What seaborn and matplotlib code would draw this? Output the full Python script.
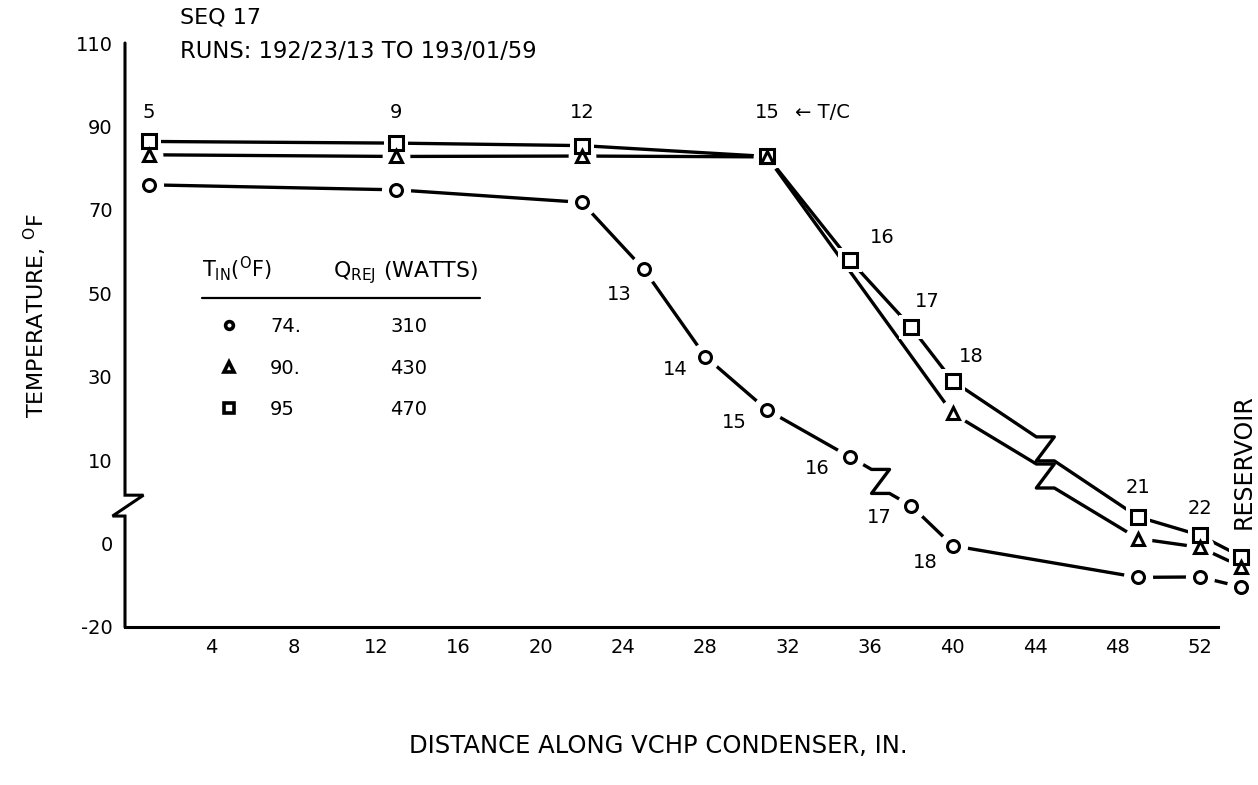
import numpy as np
import matplotlib
matplotlib.use("Agg")
import matplotlib.pyplot as plt
from matplotlib.ticker import NullLocator
import seaborn as sns

# ---------------------------------------------------------------- data
x_circle = [1, 13, 22, 25, 28, 31, 35, 38, 40, 49, 52, 54]
y_circle = [76.0, 74.8, 71.8, 55.8, 34.8, 22.0, 10.8, 4.5, -0.5, -8.1, -8.0, -10.4]

x_triangle = [1, 13, 22, 31, 40, 49, 52, 54]
y_triangle = [83.2, 82.8, 82.9, 82.7, 21.2, 0.6, -0.9, -5.5]

x_square = [1, 13, 22, 31, 35, 38, 40, 49, 52, 54]
y_square = [86.4, 86.0, 85.4, 82.8, 58.0, 41.8, 29.0, 3.2, 1.0, -3.1]

legend_t_in = ["74.", "90.", "95"]
legend_q_rej = ["310", "430", "470"]

y_tick_values = [-20, 0, 10, 30, 50, 70, 90, 110]
x_major_ticks = [4, 8, 12, 16, 20, 24, 28, 32, 36, 40, 44, 48, 52]
x_minor_ticks = [2, 4, 6, 8, 10, 12, 14, 16, 18, 20, 22, 24, 26,
                 28, 30, 32, 34, 36, 38, 40, 42, 44, 46, 48, 50, 52]

top_tc_labels = ["5", "9", "12", "15"]          # at first four square points
circle_tc_labels = ["13", "14", "15", "16", "17", "18"]
square_tc_labels = ["16", "17", "18", "21", "22"]

# ---------------------------------------------------------------- layout (pixels)
W, H = 1258, 785
AX_L, AX_R, AX_T, AX_B = 125, 1253, 43, 627
X_MIN, X_MAX = -0.175, 54.58
X_SPINE_END = 52.9
CIRCLE_LABEL_FIRST = 3
CIRCLE_LABEL_OFFSETS = [(-24, 25), (-30, 13), (-33, 12), (-32, 12), (-32, 11), (-27, 17)]
SQUARE_LABEL_FIRST = 4
SQUARE_LABEL_OFFSETS = [(33, -22), (16, -26), (19, -24), (0, -29), (0, -27)]
TOP_LABEL_Y = 93.3
BREAK_LO, BREAK_HI = 3.3, 5.8

sns.set_theme(style="white")
plt.rcParams["font.family"] = ["DejaVu Sans"]
plt.rcParams["mathtext.fontset"] = "dejavusans"
for k in ["text.color", "axes.labelcolor", "xtick.color", "ytick.color", "axes.edgecolor"]:
    plt.rcParams[k] = "black"

fig = plt.figure(figsize=(W / 100, H / 100), dpi=100)
fig.patch.set_facecolor("white")
ax = fig.add_axes([AX_L / W, 1 - AX_B / H, (AX_R - AX_L) / W, (AX_B - AX_T) / H])
ax.set_facecolor("white")


def fwd(v):
    v = np.asarray(v, dtype=float)
    return np.where(v <= 0, (v + 20) / 20,
                    np.where(v <= 10, 1 + v / 10, 2 + (v - 10) / 20))


def inv(u):
    u = np.asarray(u, dtype=float)
    return np.where(u <= 1, u * 20 - 20,
                    np.where(u <= 2, (u - 1) * 10, 10 + (u - 2) * 20))


ax.set_yscale("function", functions=(fwd, inv))
ax.set_ylim(-20, 110)
ax.set_xlim(X_MIN, X_MAX)


def with_break(xs, ys, i, hw=9, hh=12):
    p0 = ax.transData.transform((xs[i], ys[i]))
    p1 = ax.transData.transform((xs[i + 1], ys[i + 1]))
    c = (p0 + p1) / 2
    corners = np.array([c + (-hw, hh), c + (hw, hh), c + (-hw, -hh), c + (hw, -hh)])
    cd = ax.transData.inverted().transform(corners)
    bx = list(xs[:i + 1]) + list(cd[:, 0]) + list(xs[i + 1:])
    by = list(ys[:i + 1]) + list(cd[:, 1]) + list(ys[i + 1:])
    return bx, by


LW = 2.4
for xs, ys, brk in [(x_circle, y_circle, 6), (x_triangle, y_triangle, 4), (x_square, y_square, 6)]:
    bx, by = with_break(xs, ys, brk)
    sns.lineplot(x=bx, y=by, sort=False, estimator=None, color="black",
                 linewidth=LW, ax=ax, zorder=2)

# white halos -> gaps between lines and symbols
for xs, ys, mk, ms in [(x_circle, y_circle, "o", 21), (x_triangle, y_triangle, "o", 20),
                       (x_square, y_square, "s", 17.5)]:
    ax.plot(xs, ys, linestyle="none", marker=mk, markersize=ms, markerfacecolor="white",
            markeredgecolor="white", markeredgewidth=0, zorder=3, clip_on=False)

for xs, ys, mk, ms in [(x_circle, y_circle, "o", 8.6), (x_triangle, y_triangle, "^", 8.8),
                       (x_square, y_square, "s", 10.0)]:
    ax.plot(xs, ys, linestyle="none", marker=mk, markersize=ms, markerfacecolor="none",
            markeredgecolor="black", markeredgewidth=2.2, zorder=4, clip_on=False)

ax.set_xlim(X_MIN, X_MAX)
ax.set_ylim(-20, 110)
ax.set_xlabel("")
ax.set_ylabel("")

# ticks
ax.set_yticks(y_tick_values)
ax.set_yticklabels([str(v) for v in y_tick_values])
ax.yaxis.set_minor_locator(NullLocator())
ax.set_xticks(x_major_ticks)
ax.set_xticklabels([str(v) for v in x_major_ticks])
ax.set_xticks(x_minor_ticks, minor=True)
ax.tick_params(axis="both", which="both", direction="in", length=6, width=1.6,
               labelsize=14, pad=8)
ax.tick_params(axis="y", pad=9)

for s in ["top", "right", "left"]:
    ax.spines[s].set_visible(False)
ax.spines["bottom"].set_linewidth(2.2)
ax.spines["bottom"].set_bounds(X_MIN, X_SPINE_END)

# left spine with axis-break zig-zag
aw = AX_R - AX_L
ytr = ax.get_yaxis_transform()
ax.plot([0, 0, 18.5 / aw, -12.5 / aw, 0, 0],
        [110, BREAK_HI, BREAK_HI, BREAK_LO, BREAK_LO, -20],
        transform=ytr, color="black", lw=2.2, clip_on=False, zorder=5,
        solid_joinstyle="miter")

# thermocouple labels
FS = 14
for lab, xv in zip(top_tc_labels, x_square):
    ax.text(xv, TOP_LABEL_Y, lab, ha="center", va="center", fontsize=FS)
ax.annotate("\u2190 T/C", xy=(x_square[3], TOP_LABEL_Y), xytext=(28, 0),
            textcoords="offset pixels", ha="left", va="center", fontsize=FS)
for lab, xv, yv, off in zip(circle_tc_labels, x_circle[CIRCLE_LABEL_FIRST:],
                            y_circle[CIRCLE_LABEL_FIRST:], CIRCLE_LABEL_OFFSETS):
    ax.annotate(lab, xy=(xv, yv), xytext=(off[0], -off[1]), textcoords="offset pixels",
                ha="center", va="center", fontsize=FS)
for lab, xv, yv, off in zip(square_tc_labels, x_square[SQUARE_LABEL_FIRST:],
                            y_square[SQUARE_LABEL_FIRST:], SQUARE_LABEL_OFFSETS):
    ax.annotate(lab, xy=(xv, yv), xytext=(off[0], -off[1]), textcoords="offset pixels",
                ha="center", va="center", fontsize=FS)


def fx(px):
    return px / W


def fy(py):
    return 1 - py / H


# titles and axis labels
fig.text(fx(180), fy(17), "SEQ 17", ha="left", va="center", fontsize=16)
fig.text(fx(180), fy(52), "RUNS: 192/23/13 TO 193/01/59", ha="left", va="center", fontsize=16.3)
fig.text(fx(35), fy(316), r"TEMPERATURE, $^{\mathrm{O}}$F", rotation=90,
         ha="center", va="center", fontsize=16)
fig.text(fx(658), fy(746), "DISTANCE ALONG VCHP CONDENSER, IN.", ha="center",
         va="center", fontsize=17.5)
fig.text(fx(1244), fy(462), "RESERVOIR", rotation=90, ha="center", va="center", fontsize=17)

# legend table
fig.text(fx(202), fy(277), r"$\mathregular{T_{IN}(^{O}F)}$", ha="left", va="baseline", fontsize=15)
fig.text(fx(333), fy(277), r"$\mathregular{Q_{REJ}}$ (WATTS)", ha="left", va="baseline", fontsize=15.8)
fig.add_artist(plt.Line2D([fx(202), fx(480)], [fy(298), fy(298)], color="black", lw=1.6))
row_y = [325, 367, 408]
row_markers = [("o", 5.6), ("^", 7.0), ("s", 7.0)]
for (mk, ms), ry, t, q in zip(row_markers, row_y, legend_t_in, legend_q_rej):
    fig.add_artist(plt.Line2D([fx(229)], [fy(ry)], marker=mk, markersize=ms,
                              markerfacecolor="white", markeredgecolor="black",
                              markeredgewidth=2.6, linestyle=""))
    fig.text(fx(270), fy(ry + 7), t, ha="left", va="baseline", fontsize=14)
    fig.text(fx(390), fy(ry + 7), q, ha="left", va="baseline", fontsize=14)

fig.savefig("out.png", dpi=100, facecolor="white")
